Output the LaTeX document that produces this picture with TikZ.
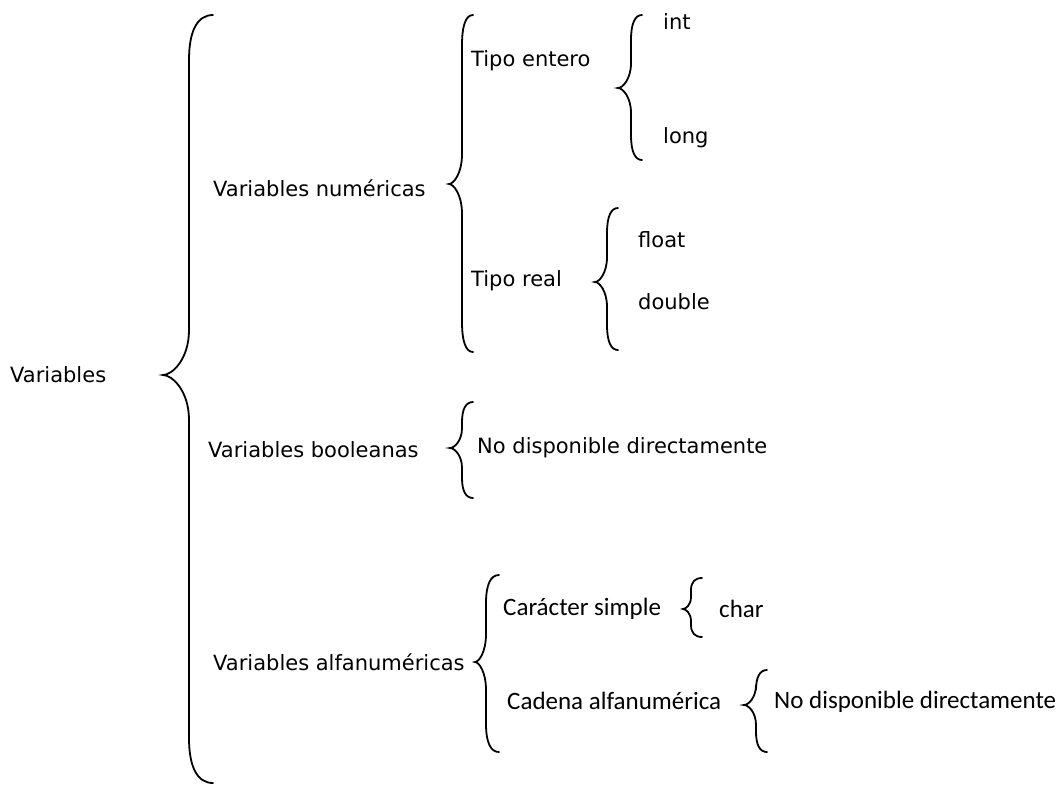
\documentclass[tikz,border=0pt]{standalone}
\usepackage{fontspec}
\setmainfont{DejaVu Sans}
\newfontfamily\narrowfont{Carlito}

% vertical curly brace: end x, line x, tip x, top y, tip y, bottom y, curl
\newcommand{\vbrace}[7]{%
  \draw[brace line] (#1,#4) .. controls ({#2+0.35*(#1-#2)},#4) and (#2,{#4+0.35*#7}) .. (#2,{#4+#7})
    -- (#2,{#5-#7}) .. controls (#2,{#5-0.35*#7}) and ({#3+0.35*(#2-#3)},#5) .. (#3,#5)
    .. controls ({#3+0.35*(#2-#3)},#5) and (#2,{#5+0.35*#7}) .. (#2,{#5+#7})
    -- (#2,{#6-#7}) .. controls (#2,{#6-0.35*#7}) and ({#2+0.35*(#1-#2)},#6) .. (#1,#6);}

\begin{document}
\begin{tikzpicture}[x=1pt, y=-1pt,
  label node/.style={anchor=west, inner sep=0pt, font=\fontsize{21}{25}\selectfont},
  narrow node/.style={anchor=west, inner sep=0pt, font=\narrowfont\fontsize{25}{30}\selectfont},
  brace line/.style={line width=1.8pt, line cap=round}]
  \useasboundingbox (0,0) rectangle (1059,785);

  \node[label node] (var) at (10,375) {Variables};

  \node[label node] (num) at (213,188) {Variables numéricas};
  \node[label node] (bool) at (208,450) {Variables booleanas};
  \node[label node] (alfa) at (213,662) {Variables alfanuméricas};

  \node[label node] (entero) at (471,61) {Tipo entero};
  \node[label node] (real) at (471,281) {Tipo real};
  \node[label node] (int) at (663,22) {int};
  \node[label node] (long) at (663,138) {long};
  \node[label node] (float) at (638,240) {float};
  \node[label node] (double) at (638,302) {double};

  \node[label node] (nobool) at (477,448) {No disponible directamente};

  \node[narrow node] (simple) at (503,609) {Carácter simple};
  \node[narrow node] (cadena) at (507,701) {Cadena alfanumérica};
  \node[narrow node] (char) at (719,609) {char};
  \node[narrow node] (nocad) at (774,702) {No disponible directamente};

  % braces
  \vbrace{213}{189}{163}{15}{375}{783}{45}
  \vbrace{473}{462}{449}{15}{184}{352}{30}
  \vbrace{642}{631}{618}{15}{88}{160}{25}
  \vbrace{618}{607}{595}{208}{282}{350}{25}
  \vbrace{473}{462}{450}{402}{448}{498}{20}
  \vbrace{499}{486}{475}{575}{662}{752}{28}
  \vbrace{702}{691}{683}{578}{609}{637}{12}
  \vbrace{767}{756}{744}{670}{705}{752}{20}
\end{tikzpicture}
\end{document}
